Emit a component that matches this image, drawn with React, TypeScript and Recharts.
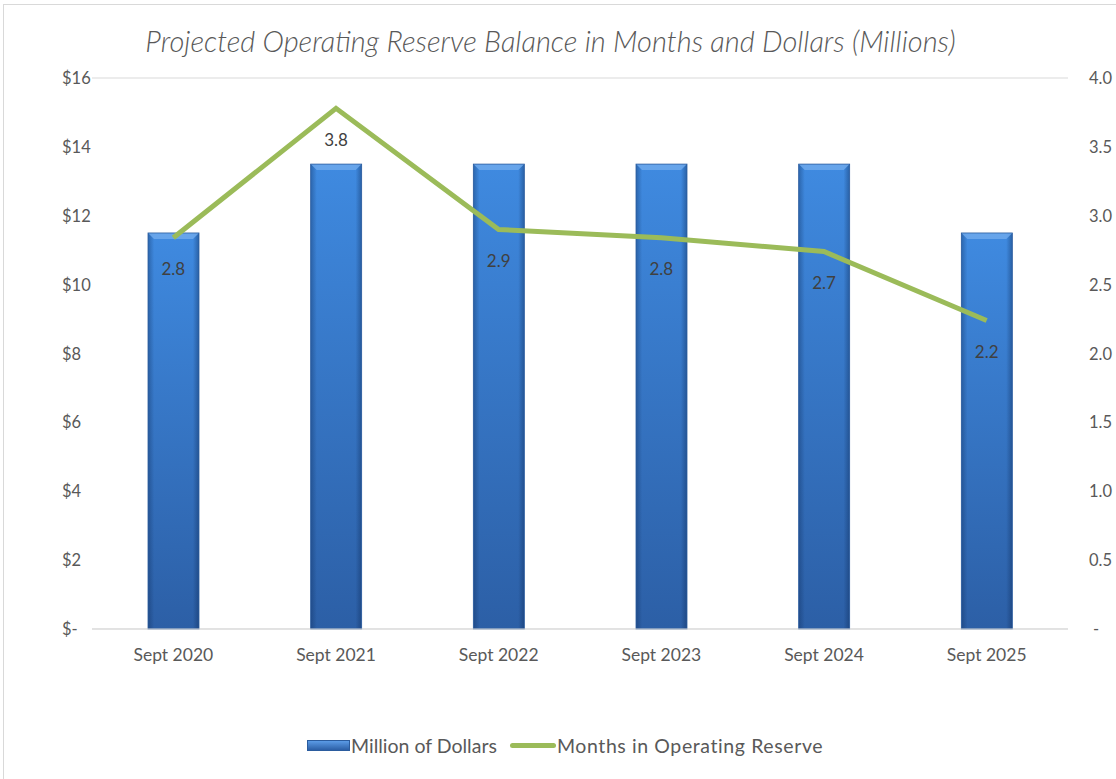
import React from "react";
import {
  Bar,
  CartesianGrid,
  ComposedChart,
  Line,
  LabelList,
  XAxis,
  YAxis,
} from "recharts";

const years = ["Sept 2020", "Sept 2021", "Sept 2022", "Sept 2023", "Sept 2024", "Sept 2025"];
const dollars = [11.5, 13.5, 13.5, 13.5, 13.5, 11.5];
const months = [2.84, 3.78, 2.9, 2.84, 2.74, 2.24];
const dollarTicks = [0, 2, 4, 6, 8, 10, 12, 14, 16];
const monthTicks = [0, 0.5, 1, 1.5, 2, 2.5, 3, 3.5, 4];

const data = years.map((name, i) => ({ name, dollars: dollars[i], months: months[i] }));

const FONT = "Lato, 'Open Sans', sans-serif";
const GREY = "#595959";

const BarShape = (props: any) => {
  const { x, y, width, height } = props;
  if (!height || height <= 0) return null;
  const b = 6;
  return (
    <g>
      <rect x={x} y={y} width={width} height={height} fill="url(#barV)" />
      <rect x={x} y={y} width={width} height={height} fill="url(#barH)" />
      <polygon
        points={`${x},${y} ${x + width},${y} ${x + width - b},${y + b} ${x + b},${y + b}`}
        fill="#6fa9ec"
        opacity={0.85}
      />
      <rect x={x} y={y} width={width} height={height} fill="none" stroke="#2b5c9e" strokeWidth={0.8} />
    </g>
  );
};

const LeftTick = (props: any) => {
  const { y, payload } = props;
  const v = payload.value;
  return (
    <text x={59} y={y} dy={6} textAnchor="start" fill={GREY} fontSize={16.5} fontFamily={FONT}>
      {v === 0 ? "$-" : `$${v}`}
    </text>
  );
};

const RightTick = (props: any) => {
  const { y, payload } = props;
  const v = payload.value;
  return (
    <text x={v === 0 ? 1090 : 1086} y={y} dy={6} textAnchor="start" fill={GREY} fontSize={16.5} fontFamily={FONT}>
      {v === 0 ? "-" : v.toFixed(1)}
    </text>
  );
};

const LineLabel = (props: any) => {
  const { x, y, value } = props;
  return (
    <text x={x} y={y + 31} textAnchor="middle" dominantBaseline="central" fill="#404040" fontSize={17} fontFamily={FONT}>
      {Number(value).toFixed(1)}
    </text>
  );
};

export default function App() {
  return (
    <div
      style={{
        position: "absolute",
        left: 3,
        top: 4,
        width: 1120,
        height: 780,
        border: "1px solid #d9d9d9",
        background: "#fff",
        boxSizing: "border-box",
        fontFamily: FONT,
      }}
    >
      <div
        style={{
          position: "absolute",
          left: 0,
          width: 1093,
          top: 18,
          textAlign: "center",
          fontSize: 29,
          fontStyle: "italic",
          fontWeight: 300,
          color: GREY,
        }}
      >
        Projected Operating Reserve Balance in Months and Dollars (Millions)
      </div>
      <div style={{ position: "absolute", left: -1, top: -1 }}>
        <ComposedChart
          width={1113}
          height={775}
          data={data}
          margin={{ top: 74, right: 0, bottom: 120, left: 0 }}
        >
          <defs>
            <linearGradient id="barV" x1="0" y1="0" x2="0" y2="1">
              <stop offset="0%" stopColor="#3f8ae0" />
              <stop offset="100%" stopColor="#2c5fa6" />
            </linearGradient>
            <linearGradient id="barH" x1="0" y1="0" x2="1" y2="0">
              <stop offset="0%" stopColor="#0a2550" stopOpacity={0.35} />
              <stop offset="12%" stopColor="#0a2550" stopOpacity={0} />
              <stop offset="88%" stopColor="#0a2550" stopOpacity={0} />
              <stop offset="100%" stopColor="#0a2550" stopOpacity={0.4} />
            </linearGradient>
          </defs>
          <CartesianGrid vertical={false} stroke="#d9d9d9" strokeWidth={1} />
          <XAxis
            dataKey="name"
            axisLine={{ stroke: "#d9d9d9" }}
            tickLine={false}
            height={30}
            tickMargin={14}
            tick={{ fill: GREY, fontSize: 17.5, fontFamily: FONT }}
          />
          <YAxis
            yAxisId="left"
            width={89}
            domain={[0, 16]}
            ticks={dollarTicks}
            axisLine={false}
            tickLine={false}
            tick={<LeftTick />}
            interval={0}
          />
          <YAxis
            yAxisId="right"
            orientation="right"
            width={48}
            domain={[0, 4]}
            ticks={monthTicks}
            axisLine={false}
            tickLine={false}
            tick={<RightTick />}
            interval={0}
          />
          <Bar
            yAxisId="left"
            dataKey="dollars"
            barSize={51}
            shape={<BarShape />}
            isAnimationActive={false}
          />
          <Line
            yAxisId="right"
            dataKey="months"
            stroke="#9bbb59"
            strokeWidth={5}
            dot={false}
            activeDot={false}
            isAnimationActive={false}
          >
            <LabelList dataKey="months" content={<LineLabel />} />
          </Line>
        </ComposedChart>
      </div>
      <div
        style={{
          position: "absolute",
          top: 729,
          left: 303,
          display: "flex",
          alignItems: "center",
          fontSize: 19.5,
          color: GREY,
          whiteSpace: "nowrap",
        }}
      >
        <span
          style={{
            display: "inline-block",
            width: 43,
            height: 11,
            background: "linear-gradient(#5b9be6, #2c5fa6)",
            border: "1px solid #2b5c9e",
            boxSizing: "border-box",
          }}
        />
        <span style={{ marginLeft: 1 }}>Million of Dollars</span>
        <span
          style={{
            display: "inline-block",
            width: 46,
            height: 5,
            borderRadius: 3,
            background: "#9bbb59",
            marginLeft: 13,
          }}
        />
        <span style={{ marginLeft: 1, letterSpacing: 0.6 }}>Months in Operating Reserve</span>
      </div>
    </div>
  );
}
